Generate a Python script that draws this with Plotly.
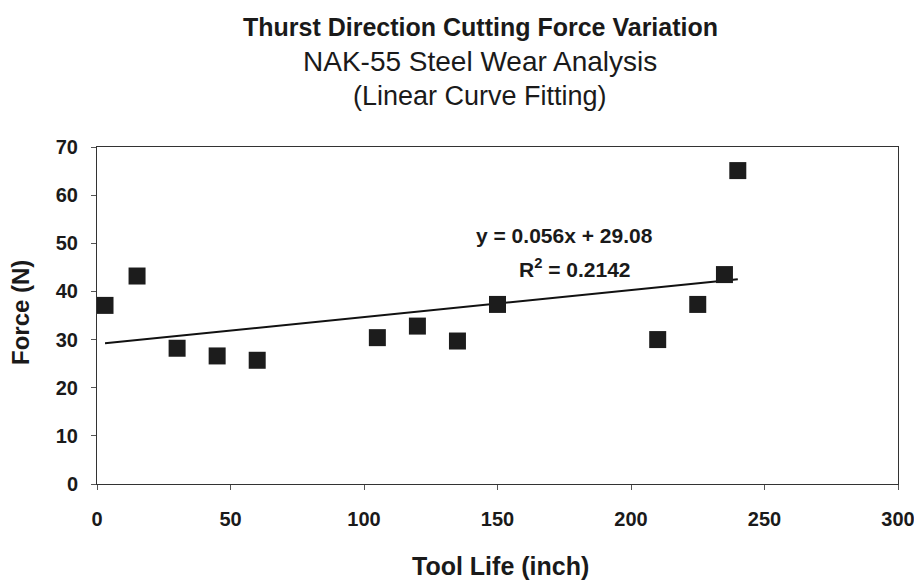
import numpy as np
import plotly.graph_objects as go

tool_life = [3, 15, 30, 45, 60, 105, 120, 135, 150, 210, 225, 235, 240]
force = [37.1, 43.2, 28.2, 26.6, 25.7, 30.4, 32.8, 29.7, 37.3, 30.0, 37.3, 43.5, 65.1]
slope = 0.056
intercept = 29.08
r_squared = 0.2142
x_ticks = [0, 50, 100, 150, 200, 250, 300]
y_ticks = [0, 10, 20, 30, 40, 50, 60, 70]

FONT = "Liberation Sans, Arial, sans-serif"
INK = "#1a1a1a"

# page body has an 8px default margin; figure is sized to fill the rest
W, H = 914, 572
ML, MR, MT, MB = 89, 24, 139, 96
PW, PH = W - ML - MR, H - MT - MB


def px(x):
    return (x - 8 - ML) / PW


def py(y):
    return (H - MB - (y - 8)) / PH


fit_x = np.array([min(tool_life), max(tool_life)])
fit_y = slope * fit_x + intercept

fig = go.Figure()
fig.add_trace(go.Scatter(
    x=fit_x, y=fit_y, mode="lines",
    line=dict(color="#111111", width=2), showlegend=False, hoverinfo="skip"))
fig.add_trace(go.Scatter(
    x=tool_life, y=force, mode="markers",
    marker=dict(symbol="square", size=17, color="#1c1c1c", line=dict(width=0)),
    showlegend=False))

fig.update_layout(
    width=W, height=H,
    margin=dict(l=ML, r=MR, t=MT, b=MB, autoexpand=False),
    paper_bgcolor="white", plot_bgcolor="white",
    font=dict(family=FONT, color=INK),
)
fig.update_xaxes(
    range=[0, 300], tickvals=x_ticks, showgrid=False, zeroline=False,
    showline=True, linecolor="#333333", linewidth=1, mirror=True,
    ticks="outside", ticklen=5, tickcolor="#555555",
    tickfont=dict(size=20, family=FONT, weight="bold", color=INK),
    ticklabelstandoff=12,
)
fig.update_yaxes(
    range=[0, 70], tickvals=y_ticks, showgrid=False, zeroline=False,
    showline=True, linecolor="#333333", linewidth=1, mirror=True,
    ticks="outside", ticklen=5, tickcolor="#555555",
    tickfont=dict(size=20, family=FONT, weight="bold", color=INK),
    ticklabelstandoff=9,
)

tx = px(480)
fig.add_annotation(xref="paper", yref="paper", x=tx, y=py(27),
                   text="<b>Thurst Direction Cutting Force Variation</b>", showarrow=False,
                   font=dict(size=25, family=FONT, color=INK), xanchor="center", yanchor="middle")
fig.add_annotation(xref="paper", yref="paper", x=tx, y=py(61),
                   text="NAK-55 Steel Wear Analysis", showarrow=False,
                   font=dict(size=28, family=FONT, color=INK), xanchor="center", yanchor="middle")
fig.add_annotation(xref="paper", yref="paper", x=tx, y=py(96),
                   text="(Linear Curve Fitting)", showarrow=False,
                   font=dict(size=27, family=FONT, color=INK), xanchor="center", yanchor="middle")

fig.add_annotation(xref="paper", yref="paper", x=px(500), y=py(566),
                   text="<b>Tool Life (inch)</b>", showarrow=False,
                   font=dict(size=25, family=FONT, color=INK), xanchor="center", yanchor="middle")
fig.add_annotation(xref="paper", yref="paper", x=px(20), y=py(313),
                   text="<b>Force (N)</b>", showarrow=False, textangle=-90,
                   font=dict(size=24, family=FONT, color=INK), xanchor="center", yanchor="middle")

fig.add_annotation(x=175, y=51.7, xref="x", yref="y",
                   text=f"<b>y = {slope:.3f}x + {intercept:.2f}</b>", showarrow=False,
                   font=dict(size=21, family=FONT, color=INK))
fig.add_annotation(x=179, y=44.8, xref="x", yref="y",
                   text=f"<b>R<sup>2</sup> = {r_squared:.4f}</b>", showarrow=False,
                   font=dict(size=21, family=FONT, color=INK))

fig.write_html("out.html")
